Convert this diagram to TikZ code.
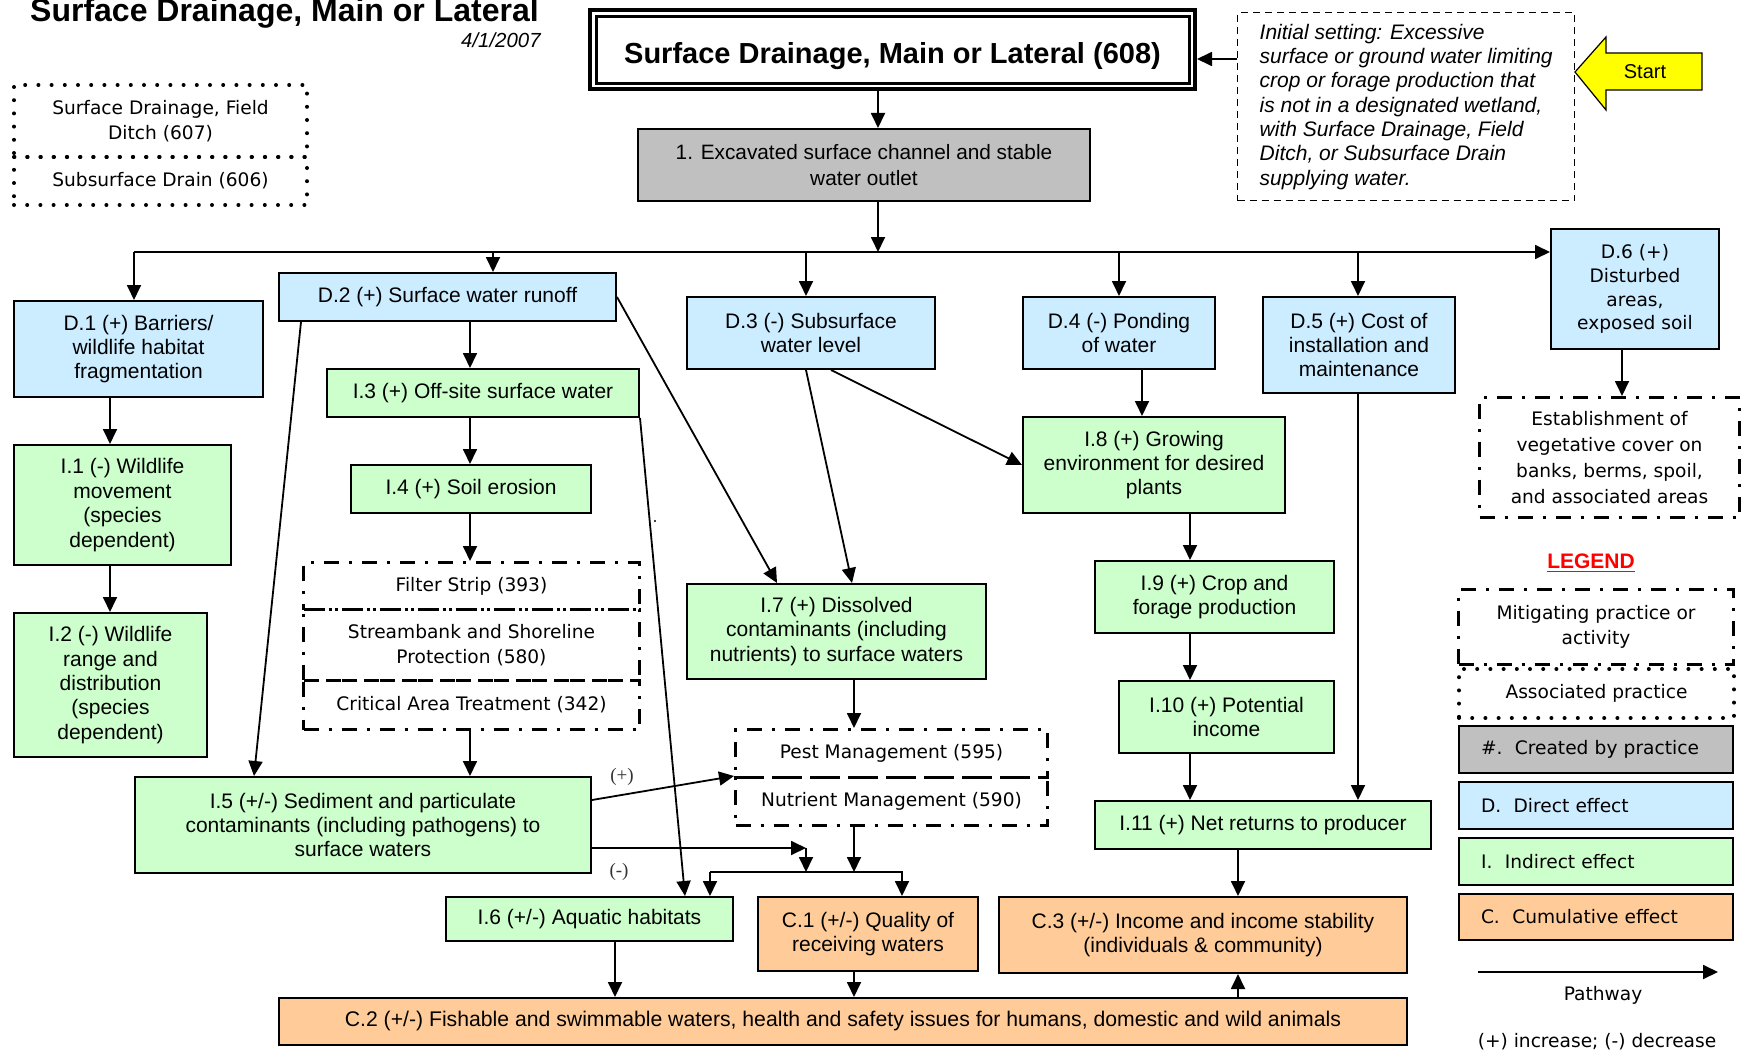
\documentclass[tikz,border=0pt]{standalone}
\usepackage{fontspec}
\setmainfont{Liberation Sans}
\newfontfamily\tahfont{DejaVu Sans}
\newfontfamily\serfont{Liberation Serif}
\usetikzlibrary{arrows.meta}
\definecolor{dirblue}{HTML}{CCECFF}
\definecolor{indgreen}{HTML}{CCFFCC}
\definecolor{cumorange}{HTML}{FFCC99}
\definecolor{pracgrey}{HTML}{C0C0C0}
\definecolor{startyellow}{HTML}{FFFF00}
\begin{document}
\begin{tikzpicture}[x=0.5pt,y=-0.5pt,
  box/.style n args={4}{draw=black, line width=1pt, anchor=north west, inner sep=0pt,
    align=center, at={(#1,#2)},
    minimum width={(#3-#1)*0.5pt}, minimum height={(#4-#2)*0.5pt},
    font=\fontsize{10.5}{12.2}\selectfont},
  direct/.style={fill=dirblue},
  indirect/.style={fill=indgreen},
  cumul/.style={fill=cumorange},
  created/.style={fill=pracgrey},
  tah/.style={font=\tahfont\fontsize{9.3}{12.6}\selectfont},
  mitig/.style={tah, line width=1.5pt, dash pattern=on 7.5pt off 5pt on 1.5pt off 5pt},
  assoc/.style={tah, line width=2pt, dash pattern=on 0pt off 6.6pt, line cap=round},
  setting/.style={line width=0.7pt, dash pattern=on 3.5pt off 2.5pt},
  arr/.style={line width=0.9pt, -{Triangle[length=7.5pt,width=7pt]}},
  ln/.style={line width=0.9pt},
  sign/.style={font=\serfont\fontsize{9.5}{10}\selectfont, text=black!80, inner sep=0pt},
  legtext/.style={tah, text width=115pt, align=left}
]
\fill[white] (0,0) rectangle (1741,1054);
\useasboundingbox (0,0) rectangle (1741,1054);

% ---------- heading ----------
\node[anchor=base, inner sep=0pt, font=\bfseries\fontsize{16}{19}\selectfont] (title) at (284.5,22) {Surface Drainage, Main or Lateral};
\node[anchor=base east, inner sep=0pt, font=\itshape\fontsize{10.2}{12}\selectfont] (date) at (541,48) {4/1/2007};

% associated practices (top left)
\node[box={12}{83}{305}{155}, assoc, font=\tahfont\fontsize{9.3}{12.5}\selectfont] (ditch) {Surface Drainage, Field\\Ditch (607)};
\node[box={12}{155}{305}{203}, assoc] (subdrain) {Subsurface Drain (606)};

% practice
\node[box={588}{8.5}{1193}{87.5}, line width=2pt, text height=14pt, text depth=0pt, font=\bfseries\fontsize{14.5}{17}\selectfont] (main) {Surface Drainage, Main or Lateral (608)};
\draw[line width=1.5pt] ([xshift=4pt,yshift=-4pt]main.north west) rectangle ([xshift=-4pt,yshift=4pt]main.south east);

% initial setting and start marker
\node[box={1237}{12}{1574}{200}, setting, align=left, font=\itshape\fontsize{10.5}{12.15}\selectfont] (init)
  {Initial setting: Excessive\\surface or ground water limiting\\crop or forage production that\\is not in a designated wetland,\\with Surface Drainage, Field\\Ditch, or Subsurface Drain\\supplying water.};
\draw[fill=startyellow, line width=0.6pt] (1575,72) -- (1606,37) -- (1606,53) -- (1702,53) -- (1702,90) -- (1606,90) -- (1606,110) -- cycle;
\node[inner sep=0pt, font=\fontsize{10}{12}\selectfont] (start) at (1645,72) {Start};

% created by practice
\node[box={637}{128}{1089}{200}, created, font=\fontsize{10.4}{13.2}\selectfont] (exc) {1. Excavated surface channel and stable\\water outlet};

% ---------- direct effects ----------
\node[box={13}{300}{262}{396}, direct] (d1) {D.1 (+) Barriers/\\wildlife habitat\\fragmentation};
\node[box={278}{272}{615}{320}, direct] (d2) {D.2 (+) Surface water runoff};
\node[box={686}{296}{934}{368}, direct] (d3) {D.3 (-) Subsurface\\water level};
\node[box={1022}{296}{1214}{368}, direct] (d4) {D.4 (-) Ponding\\of water};
\node[box={1262}{296}{1454}{392}, direct] (d5) {D.5 (+) Cost of\\installation and\\maintenance};
\node[box={1550}{228}{1718}{348}, direct, font=\tahfont\fontsize{9.3}{11.9}\selectfont] (d6) {D.6 (+)\\Disturbed\\areas,\\exposed soil};
\node[box={1478}{396}{1738}{516}, mitig, font=\tahfont\fontsize{9.3}{13}\selectfont] (estab) {Establishment of\\vegetative cover on\\banks, berms, spoil,\\and associated areas};

% ---------- indirect effects ----------
\node[box={13}{444}{230}{564}, indirect] (i1) {I.1 (-) Wildlife\\movement\\(species\\dependent)};
\node[box={13}{612}{206}{756}, indirect] (i2) {I.2 (-) Wildlife\\range and\\distribution\\(species\\dependent)};
\node[box={326}{368}{638}{416}, indirect] (i3) {I.3 (+) Off-site surface water};
\node[box={350}{464}{590}{512}, indirect] (i4) {I.4 (+) Soil erosion};
\node[box={302}{561}{638}{608}, mitig] (filt) {Filter Strip (393)};
\node[box={302}{608}{638}{679}, mitig] (strm) {Streambank and Shoreline\\Protection (580)};
\node[box={302}{679}{638}{728}, mitig] (crit) {Critical Area Treatment (342)};
\node[box={134}{776}{590}{872}, indirect] (i5) {I.5 (+/-) Sediment and particulate\\contaminants (including pathogens) to\\surface waters};
\node[box={445}{896}{732}{940}, indirect] (i6) {I.6 (+/-) Aquatic habitats};
\node[box={686}{583}{985}{678}, indirect] (i7) {I.7 (+) Dissolved\\contaminants (including\\nutrients) to surface waters};
\node[box={734}{728}{1046}{776}, mitig] (pest) {Pest Management (595)};
\node[box={734}{776}{1046}{824}, mitig] (nutr) {Nutrient Management (590)};
\node[box={1022}{416}{1284}{512}, indirect] (i8) {I.8 (+) Growing\\environment for desired\\plants};
\node[box={1094}{560}{1333}{632}, indirect] (i9) {I.9 (+) Crop and\\forage production};
\node[box={1118}{680}{1333}{752}, indirect] (i10) {I.10 (+) Potential\\income};
\node[box={1094}{800}{1430}{848}, indirect] (i11) {I.11 (+) Net returns to producer};

% ---------- cumulative effects ----------
\node[box={757}{896}{977}{970}, cumul] (c1) {C.1 (+/-) Quality of\\receiving waters};
\node[box={998}{896}{1406}{972}, cumul] (c3) {C.3 (+/-) Income and income stability\\(individuals \& community)};
\node[box={278}{997}{1406}{1044}, cumul, font=\fontsize{10.6}{12.2}\selectfont] (c2) {C.2 (+/-) Fishable and swimmable waters, health and safety issues for humans, domestic and wild animals};

% ---------- legend ----------
\node[inner sep=0pt, text=red, font=\bfseries\fontsize{10.5}{12}\selectfont] (legtitle) at (1591,563) {\underline{LEGEND}};
\node[box={1457}{588}{1732}{663}, mitig] (lgmit) {Mitigating practice or\\activity};
\node[box={1457}{667}{1732}{716}, assoc] (lgass) {Associated practice};
\node[box={1458}{725}{1732}{772}, created, legtext] (lgcre) {\#.\ \ Created by practice};
\node[box={1458}{781}{1732}{828}, direct, legtext] (lgdir) {D.\ \ Direct effect};
\node[box={1458}{837}{1732}{884}, indirect, legtext] (lgind) {I.\ \ Indirect effect};
\node[box={1458}{893}{1732}{939}, cumul, legtext] (lgcum) {C.\ \ Cumulative effect};
\coordinate (pw0) at (1478,972);
\coordinate (pw1) at (1718,972);
\draw[arr] (pw0) -- (pw1);
\node[tah, inner sep=0pt] (pathway) at (1603,995) {Pathway};
\node[tah, inner sep=0pt] (signs) at (1597,1042) {(+) increase; (-) decrease};

% ---------- pathways ----------
\draw[arr] (init.west |- 0,59) -- (main.east |- 0,59);
\draw[arr] (main.south -| 878,0) -- (exc.north -| 878,0);
\coordinate (bus) at (878,252);
\draw[arr] (exc.south -| bus) -- (bus);
\draw[arr] (bus -| 134,0) -- (bus -| d6.west);
\draw[arr] (bus -| 134,0) -- (d1.north -| 134,0);
\draw[arr] (bus -| 493,0) -- (d2.north -| 493,0);
\draw[arr] (bus -| 806,0) -- (d3.north -| 806,0);
\draw[arr] (bus -| 1119,0) -- (d4.north -| 1119,0);
\draw[arr] (bus -| 1358,0) -- (d5.north -| 1358,0);

\draw[arr] (d1.south -| 110,0) -- (i1.north -| 110,0);
\draw[arr] (i1.south -| 110,0) -- (i2.north -| 110,0);

\draw[arr] (d2.south -| 470,0) -- (i3.north -| 470,0);
\draw[arr] (i3.south -| 470,0) -- (i4.north -| 470,0);
\draw[arr] (i4.south -| 470,0) -- (filt.north -| 470,0);
\draw[arr] (crit.south -| 470,0) -- (i5.north -| 470,0);
\draw[arr] (d2.south -| 301,0) -- (i5.north -| 254,0);
\draw[arr] (i3.south east) -- (i6.north -| 685,0);
\draw[arr] (d2.east) -- (i7.north -| 777,0);
\draw[arr] (d3.south -| 806,0) -- (i7.north -| 852,0);
\draw[arr] (d3.south -| 831,0) -- (i8.west);
\draw[arr] (d4.south -| 1142,0) -- (i8.north -| 1142,0);
\draw[arr] (i8.south -| 1190,0) -- (i9.north -| 1190,0);
\draw[arr] (i9.south -| 1190,0) -- (i10.north -| 1190,0);
\draw[arr] (i10.south -| 1190,0) -- (i11.north -| 1190,0);
\draw[arr] (d5.south -| 1358,0) -- (i11.north -| 1358,0);
\draw[arr] (i11.south -| 1238,0) -- (c3.north -| 1238,0);
\draw[arr] (c2.north -| 1238,0) -- (c3.south -| 1238,0);
\draw[arr] (d6.south -| 1622,0) -- (estab.north -| 1622,0);

\draw[arr] (i7.south -| 854,0) -- (pest.north -| 854,0);
\draw[arr] (i5.east |- 0,800) -- (nutr.north west);
\node[sign] (plus) at (622,777) {(+)};
\coordinate (jx) at (806,848);
\coordinate (jl) at (710,872);
\coordinate (jr) at (902,872);
\draw[arr] (i5.east |- jx) -- (jx);
\node[sign] (minus) at (619,872) {(-)};
\draw[arr] (jx) -- (jx |- jl);
\draw[arr] (nutr.south -| 854,0) -- (jl -| 854,0);
\draw[arr] (jl) -- (jr) -- (c1.north -| jr);
\draw[arr] (jl) -- (i6.north -| jl);
\draw[arr] (c1.south -| 854,0) -- (c2.north -| 854,0);
\draw[arr] (i6.south -| 615,0) -- (c2.north -| 615,0);

% stray speck
\fill (655,521) circle (0.6pt);
\end{tikzpicture}
\end{document}
